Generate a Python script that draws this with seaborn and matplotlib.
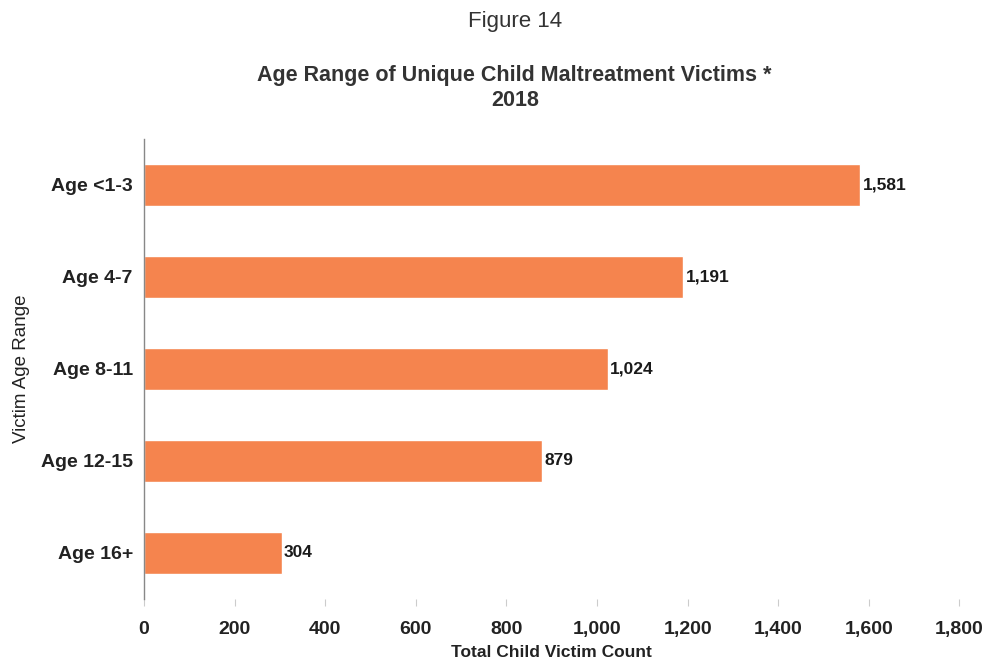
import matplotlib
matplotlib.use('Agg')
import matplotlib.pyplot as plt
import seaborn as sns
import pandas as pd

# data
age_groups = ['Age <1-3', 'Age 4-7', 'Age 8-11', 'Age 12-15', 'Age 16+']
victims = [1581, 1191, 1024, 879, 304]
x_ticks = [0, 200, 400, 600, 800, 1000, 1200, 1400, 1600, 1800]

sns.set_style('white')
plt.rcParams['font.family'] = ['Liberation Sans', 'DejaVu Sans']

df = pd.DataFrame({'age': age_groups, 'count': victims})

fig, ax = plt.subplots(figsize=(9.86, 6.66), dpi=100)
fig.subplots_adjust(left=0.146, right=0.973, bottom=0.1006, top=0.7913)

sns.barplot(data=df, x='count', y='age', color='#F5844E', width=0.46,
            saturation=1, ax=ax)

for i, v in enumerate(victims):
    ax.text(v + 5, i, f'{v:,}', va='center', ha='left', fontsize=12.5,
            fontweight='bold', color='#1a1a1a')

ax.set_xlim(0, 1800)
ax.set_ylim(4.5, -0.5)
ax.set_xticks(x_ticks)
ax.set_xticklabels([f'{t:,}' for t in x_ticks], fontsize=14, fontweight='bold', color='#222222')
ax.tick_params(axis='x', length=5, color='#cccccc', pad=11, bottom=True)
ax.tick_params(axis='y', length=0, pad=8)
for lab in ax.get_yticklabels():
    lab.set_fontsize(14)
    lab.set_fontweight('bold')
    lab.set_color('#222222')

for s in ['top', 'right', 'bottom']:
    ax.spines[s].set_visible(False)
ax.spines['left'].set_color('#888888')
ax.spines['left'].set_linewidth(1)

ax.set_xlabel('Total Child Victim Count', fontsize=12.5, fontweight='bold', color='#222222', labelpad=5)
ax.set_ylabel('Victim Age Range', fontsize=13.5, color='#222222', labelpad=8)

fig.text(0.522, 0.967, 'Figure 14', ha='center', va='center', fontsize=16, color='#333333')
fig.text(0.522, 0.868, 'Age Range of Unique Child Maltreatment Victims *\n2018', ha='center',
         va='center', fontsize=15.5, fontweight='bold', color='#333333', linespacing=1.2)

fig.savefig('out.png', dpi=100, facecolor='white')
